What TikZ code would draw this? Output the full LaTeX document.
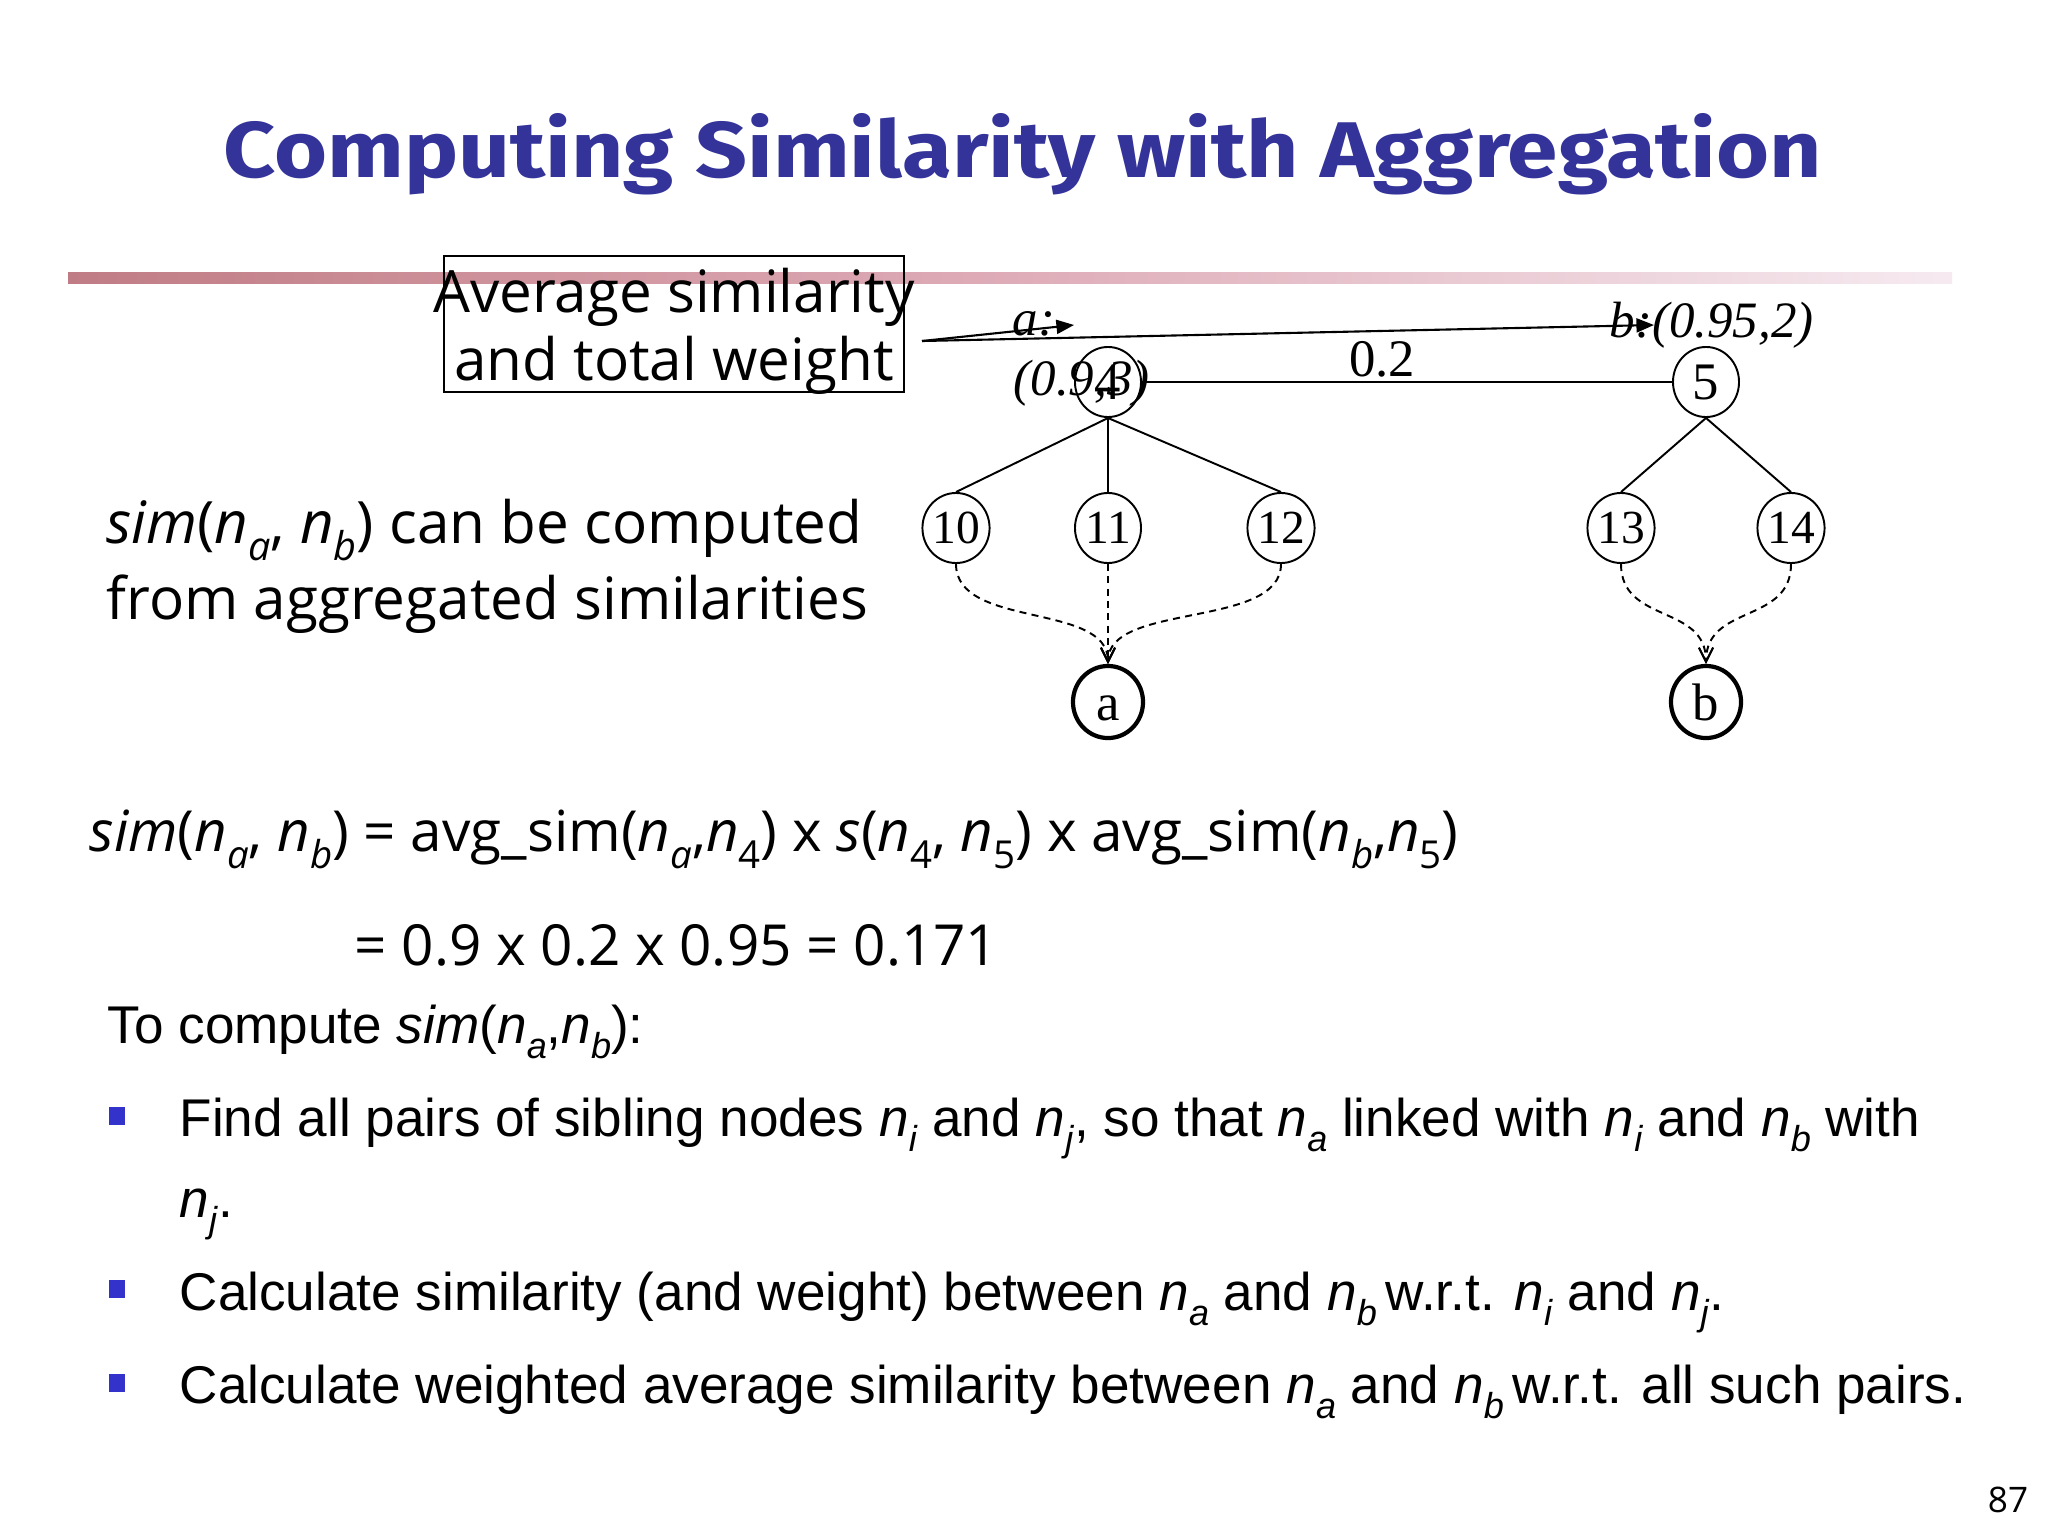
\documentclass[tikz,border=0pt]{standalone}
\usepackage{fontspec}
\usepackage{graphicx}
\setmainfont{Open Sans}
\newfontfamily\arialf{Liberation Sans}
\newfontfamily\timesf{Liberation Serif}
\newfontfamily\titlef{Fira Sans}
\usetikzlibrary{shapes.geometric, arrows.meta, calc}
\definecolor{titleblue}{RGB}{51,51,153}
\definecolor{bulletblue}{RGB}{51,51,204}
\definecolor{barA}{RGB}{192,124,132}
\definecolor{barB}{RGB}{222,172,184}
\definecolor{barC}{RGB}{246,234,240}
\newcommand\lo[1]{\raisebox{-0.3em}{\scalebox{0.68}{#1}}}
\newcommand\fs[1]{\fontsize{#1pt}{#1pt}\selectfont}
\begin{document}
\begin{tikzpicture}[x=0.01cm,y=-0.01cm,
  tnode/.style={ellipse, draw, line width=0.55pt, minimum width=0.66cm, minimum height=0.70cm, inner sep=0pt, font=\timesf\fs{13.5}},
  bignode/.style={tnode, font=\timesf\fs{15}},
  leaf/.style={tnode, line width=1.2pt, minimum width=0.70cm, minimum height=0.72cm, font=\timesf\fs{15}},
  tedge/.style={line width=0.55pt},
  dedge/.style={line width=0.55pt, dash pattern=on 2pt off 1.5pt, -{Straight Barb[length=4pt,width=4pt]}},
  ann/.style={line width=0.6pt, -{Triangle[length=5pt,width=4pt]}},
  lbl/.style={font=\timesf\itshape\fs{14.5}, inner sep=0pt},
  body/.style={font=\fs{16.1}, inner sep=0pt, anchor=base west},
  sidetext/.style={font=\fs{16.6}, inner sep=0pt, anchor=base west},
  arial/.style={font=\arialf\fs{15.1}, inner sep=0pt, anchor=base west},
  bulletbox/.style={fill=bulletblue, minimum width=0.16cm, minimum height=0.18cm, inner sep=0pt}
]
\fill[white] (0,0) rectangle (2048,1536);
\useasboundingbox (0,0) rectangle (2048,1536);

% header bar
\shade[left color=barA, right color=barC, middle color=barB] (68,272) rectangle (1952,283);

% title
\node[anchor=base, text=titleblue, inner sep=0pt] (title) at (1023,177)
  {\resizebox{15.97cm}{0.64cm}{\titlef\bfseries Computing Similarity with Aggregation}};

% annotation box
\node[draw, line width=0.6pt, minimum width=4.60cm, minimum height=1.36cm, inner sep=0pt] (box) at (674,324) {};
\node[font=\fs{16.6}, anchor=base, inner sep=0pt] (boxl1) at (674,312) {Average similarity};
\node[font=\fs{16.6}, anchor=base, inner sep=0pt] (boxl2) at (674,380) {and total weight};

% tree
\node[bignode] (n4) at (1108,382) {4};
\node[bignode] (n5) at (1706,382) {5};
\node[tnode] (n10) at (956,528) {10};
\node[tnode] (n11) at (1108,528) {11};
\node[tnode] (n12) at (1281,528) {12};
\node[tnode] (n13) at (1621,528) {13};
\node[tnode] (n14) at (1791,528) {14};
\node[leaf] (na) at (1108,702) {\vphantom{b}a};
\node[leaf] (nb) at (1706,702) {b};

\draw[tedge] (n4) -- (n5);
\node[font=\timesf\fs{15}, inner sep=0pt] (w45) at (1382,359) {0.2};
\draw[tedge] (n4.south) -- (n10.north);
\draw[tedge] (n4.south) -- (n11.north);
\draw[tedge] (n4.south) -- (n12.north);
\draw[tedge] (n5.south) -- (n13.north);
\draw[tedge] (n5.south) -- (n14.north);

\draw[dedge] (n10.south) .. controls ($(n10.south)+(0,65)$) and ($(na.north)+(0,-62)$) .. (na.north);
\draw[dedge] (n11.south) -- (na.north);
\draw[dedge] (n12.south) .. controls ($(n12.south)+(0,65)$) and ($(na.north)+(0,-62)$) .. (na.north);
\draw[dedge] (n13.south) .. controls ($(n13.south)+(0,60)$) and ($(nb.north)+(0,-60)$) .. (nb.north);
\draw[dedge] (n14.south) .. controls ($(n14.south)+(0,60)$) and ($(nb.north)+(0,-60)$) .. (nb.north);

% labels and annotation arrows
\node[lbl, anchor=base west] (alab1) at (1012,335) {a:};
\node[lbl, anchor=base west] (alab2) at (1013,395) {(0.9,3)};
\node[lbl, anchor=base west] (blab) at (1609,337) {b:(0.95,2)};
\coordinate (src) at (922,341);
\coordinate (atip) at (1074,325);
\coordinate (btip) at (1654,325);
\draw[ann] (src) -- (atip);
\draw[ann] (src) -- (btip);

% left text
\node[sidetext] (s1) at (106,543) {\textit{sim}(\textit{n}\lo{\textit{a}}, \textit{n}\lo{\textit{b}}) can be computed};
\node[sidetext] (s2) at (106,619) {from aggregated similarities};

% formula
\node[body] (f1) at (89,851) {\textit{sim}(\textit{n}\lo{\textit{a}}, \textit{n}\lo{\textit{b}}) = avg\_sim(\textit{n}\lo{\textit{a}},\textit{n}\lo{4}) x \textit{s}(\textit{n}\lo{4}, \textit{n}\lo{5}) x avg\_sim(\textit{n}\lo{\textit{b}},\textit{n}\lo{5})};
\node[body] (f2) at (354,965) {= 0.9 x 0.2 x 0.95 = 0.171};

% bullets
\node[arial] (tc) at (107,1043) {To compute \textit{sim}(\textit{n}\lo{\textit{a}},\textit{n}\lo{\textit{b}}):};
\node[bulletbox] (bu1) at (117,1116) {};
\node[arial] (t1) at (179,1136) {Find all pairs of sibling nodes \textit{n}\lo{\textit{i}} and \textit{n}\lo{\textit{j}}, so that \textit{n}\lo{\textit{a}} linked with \textit{n}\lo{\textit{i}} and \textit{n}\lo{\textit{b}} with};
\node[arial] (t1b) at (179,1217) {\textit{n}\lo{\textit{j}}.};
\node[bulletbox] (bu2) at (117,1289) {};
\node[arial] (t2) at (179,1310) {Calculate similarity (and weight) between \textit{n}\lo{\textit{a}} and \textit{n}\lo{\textit{b}}\,w.r.t. \textit{n}\lo{\textit{i}} and \textit{n}\lo{\textit{j}}.};
\node[bulletbox] (bu3) at (117,1383) {};
\node[arial] (t3) at (179,1403) {Calculate weighted average similarity between \textit{n}\lo{\textit{a}} and \textit{n}\lo{\textit{b}}\,w.r.t. all such pairs.};

% page number
\node[font=\fs{10}, inner sep=0pt] (pg) at (2008,1500) {87};
\end{tikzpicture}
\end{document}
